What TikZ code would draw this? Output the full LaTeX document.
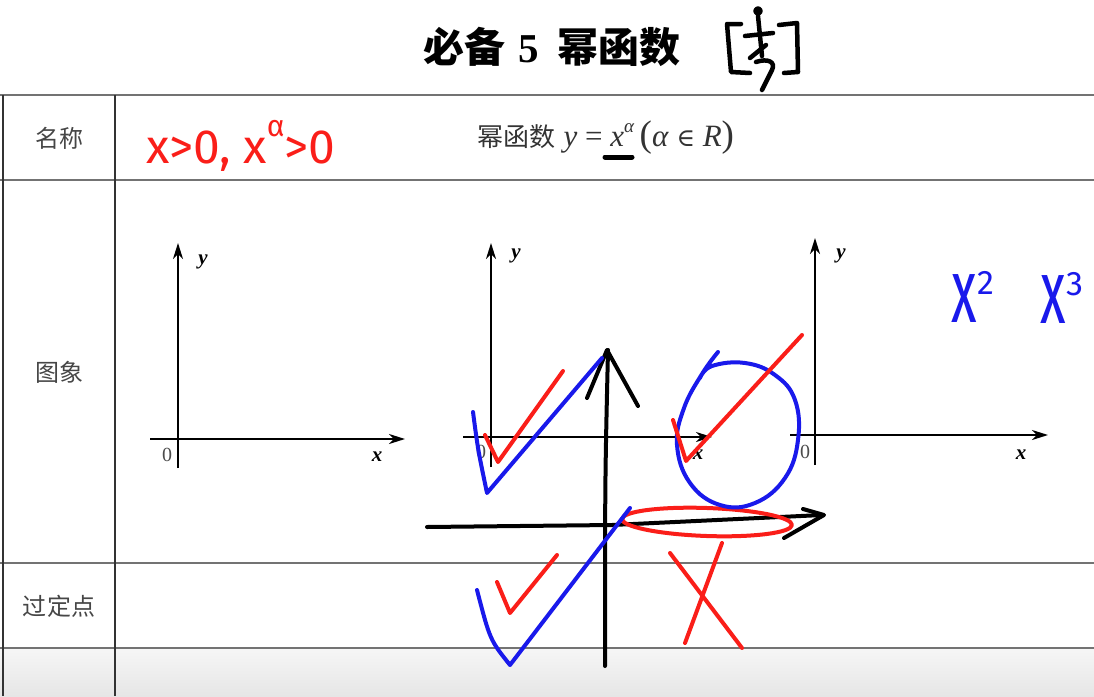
\documentclass[tikz,border=0pt]{standalone}
\usepackage{fontspec}
\setmainfont{Liberation Serif}
\newfontfamily\cjk{Noto Sans CJK SC}
\newfontfamily\handfont{Fira Sans}
\newfontfamily\dvserif{DejaVu Serif}
\usetikzlibrary{arrows.meta}
\definecolor{hred}{RGB}{250,30,25}
\definecolor{hblue}{RGB}{25,25,235}
\definecolor{lblgray}{RGB}{70,70,70}
\begin{document}
\begin{tikzpicture}[x=1pt,y=-1pt,
  hline/.style={draw=black!55, line width=1.3pt},
  vline/.style={draw=black!80, line width=1.2pt},
  axis/.style={line width=2.2pt, -{Stealth[length=16pt,width=10pt,inset=5pt]}},
  hand/.style={line width=4pt, line cap=round, line join=round},
  rowlbl/.style={font=\cjk\fontsize{24}{24}\selectfont, text=lblgray},
  axlbl/.style={font=\bfseries\itshape\fontsize{21}{21}\selectfont},
  zero/.style={font=\fontsize{20}{20}\selectfont, text=black!70}]
\useasboundingbox (0,0) rectangle (1094,696);
\fill[white] (0,0) rectangle (1094,696);
\shade[top color={rgb,255:red,246;green,246;blue,246}, bottom color={rgb,255:red,230;green,230;blue,230}] (0,648) rectangle (1094,696);
% table
\draw[hline] (0,95) -- (1094,95);
\draw[hline] (0,180) -- (1094,180);
\draw[hline] (0,563) -- (1094,563);
\draw[hline] (0,648) -- (1094,648);
\draw[vline] (3,95) -- (3,696);
\draw[vline] (115,95) -- (115,696);
% title
\node[font=\cjk\bfseries\fontsize{41}{41}\selectfont] (title) at (552,47) {必备\hspace{0.3em}{\rmfamily\bfseries 5}\hspace{0.45em}幂函数};
% handwritten bracket mark
\begin{scope}[line width=4.5pt, line cap=round, line join=round]
\draw (741,24) -- (727,24) -- (731,72) -- (750,73);
\draw (758,11) circle (2.5);
\draw (758,16) -- (762,56);
\draw (745,36) -- (773,33);
\draw (766,45) -- (750,58);
\draw (756,62) .. controls (768,58) and (776,62) .. (772,70) -- (762,90);
\draw (779,25) -- (797,23) -- (798,72) -- (784,73);
\end{scope}
% row labels
\node[rowlbl] (r1) at (59,138) {名称};
\node[rowlbl] (r2) at (59,372) {图象};
\node[rowlbl] (r3) at (59,606) {过定点};
% formula
\node[font=\fontsize{31}{31}\selectfont, text=black!80] (formula) at (606,138)
  {{\cjk\fontsize{26}{26}\selectfont 幂函数} \textit{y} = \textit{x}\raisebox{0.45em}{\fontsize{19}{19}\selectfont\textit{α}}\,{\fontsize{37}{37}\selectfont(}\textit{α} {\dvserif\fontsize{25}{25}\selectfont ∈} \textit{R}{\fontsize{37}{37}\selectfont)}};
\draw[hand, line width=5pt] (605,157) -- (632,157);
% handwritten condition
\node[anchor=base west, font=\handfont\fontsize{48}{48}\selectfont, text=hred] (cond) at (143,163)
  {x>0, x\raisebox{0.55em}{\fontsize{30}{30}\selectfont α}>0};
% graph 1
\draw[axis] (178,468) -- (178,243);
\draw[axis] (150,439) -- (405,439);
\node[axlbl] (g1y) at (203,262) {y};
\node[zero] (g1z) at (167,455) {0};
\node[axlbl] (g1x) at (377,457) {x};
% graph 2
\draw[axis] (491,467) -- (491,243);
\draw[axis] (463,437) -- (712,437);
\node[axlbl] (g2y) at (516,256) {y};
\node[zero] (g2z) at (481,452) {0};
\node[axlbl] (g2x) at (698,455) {x};
% graph 3
\draw[axis] (815,465) -- (815,238);
\draw[axis] (790,435) -- (1048,435);
\node[axlbl] (g3y) at (841,256) {y};
\node[zero] (g3z) at (805,452) {0};
\node[axlbl] (g3x) at (1021,455) {x};
% blue x^2 x^3
\node[font=\handfont\fontsize{70}{70}\selectfont, text=hblue] (x2) at (973,297) {\scalebox{0.75}[1.3]{x}\raisebox{0.4em}{\fontsize{34}{34}\selectfont 2}};
\node[font=\handfont\fontsize{70}{70}\selectfont, text=hblue] (x3) at (1062,298) {\scalebox{0.75}[1.3]{x}\raisebox{0.4em}{\fontsize{34}{34}\selectfont 3}};
% hand-drawn axes
\draw[hand] (608,350) .. controls (605,480) .. (605,666);
\draw[hand] (587,398) -- (607,350) -- (638,406);
\draw[hand] (427,527) -- (612,525) -- (822,515);
\draw[hand] (803,509) -- (824,515) -- (784,538);
% red ellipse
\draw[hand, hred, rotate around={-2:(707,522)}] (707,522) ellipse [x radius=85, y radius=14];
% blue loop
\draw[hand, hblue] plot[smooth, tension=0.7] coordinates {(718,352) (702,374) (684,408) (677,445) (690,483) (720,505) (755,503) (785,478) (798,440) (795,400) (775,375) (745,363) (712,366) (700,378)};
% red checks
\draw[hand, hred] (673,420) -- (686,461) -- (802,335);
\draw[hand, hred] (485,435) -- (498,462) -- (563,371);
\draw[hand, hred] (497,582) -- (510,613) -- (557,555);
% blue checks
\draw[hand, hblue] (473,412) .. controls (478,450) .. (487,493) -- (602,358);
\draw[hand, hblue] (477,590) .. controls (490,640) .. (510,665) -- (630,508);
% red X
\draw[hand, hred] (670,553) -- (742,648);
\draw[hand, hred] (722,543) -- (685,643);
\end{tikzpicture}
\end{document}
